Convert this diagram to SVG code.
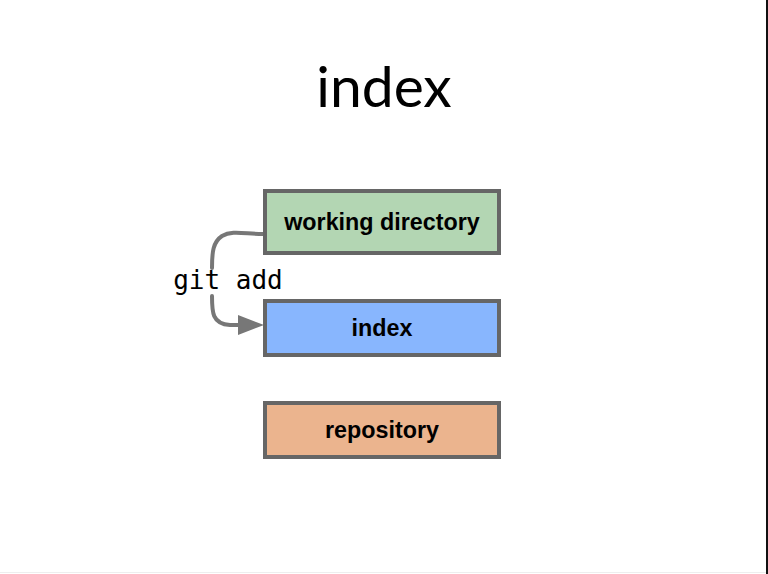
<svg xmlns="http://www.w3.org/2000/svg" width="768" height="574" viewBox="0 0 768 574">
<defs>
<style>
.box{stroke:#666;stroke-width:4}
.lbl{font-family:"Liberation Sans",Arial,sans-serif;font-weight:bold;font-size:23.3px;fill:#000;text-anchor:middle}
.conn{fill:none;stroke:#777;stroke-width:4;stroke-linecap:round}
.head{fill:#777}
</style>
</defs>
<rect width="768" height="574" fill="#fff"/>
<rect x="766" y="0" width="2" height="574" fill="#111"/>
<rect x="0" y="572" width="766" height="1" fill="#eee"/>
<text x="384" y="107" font-family="Lato,'Open Sans',sans-serif" font-size="57" text-anchor="middle" fill="#000">index</text>
<g id="connectors">
<path class="conn" d="M263,234 C245,234 232,230 222,236 C213,242 212,252 212,268"/>
<path class="conn" d="M212,296 C212,312 212,324 230,325 L242,325"/>
<polygon class="head" points="238,315 264,325 238,335"/>
</g>
<text x="228" y="289" font-family="'DejaVu Sans Mono',monospace" font-size="26" text-anchor="middle" fill="#000">git add</text>
<g id="working-directory">
<rect class="box" x="265" y="191" width="234" height="62" fill="#b3d6b3"/>
<text class="lbl" x="382" y="230">working directory</text>
</g>
<g id="index">
<rect class="box" x="265" y="301" width="234" height="54" fill="#88b6fe"/>
<text class="lbl" x="382" y="336">index</text>
</g>
<g id="repository">
<rect class="box" x="265" y="403" width="234" height="54" fill="#ebb48e"/>
<text class="lbl" x="382" y="438">repository</text>
</g>
</svg>
